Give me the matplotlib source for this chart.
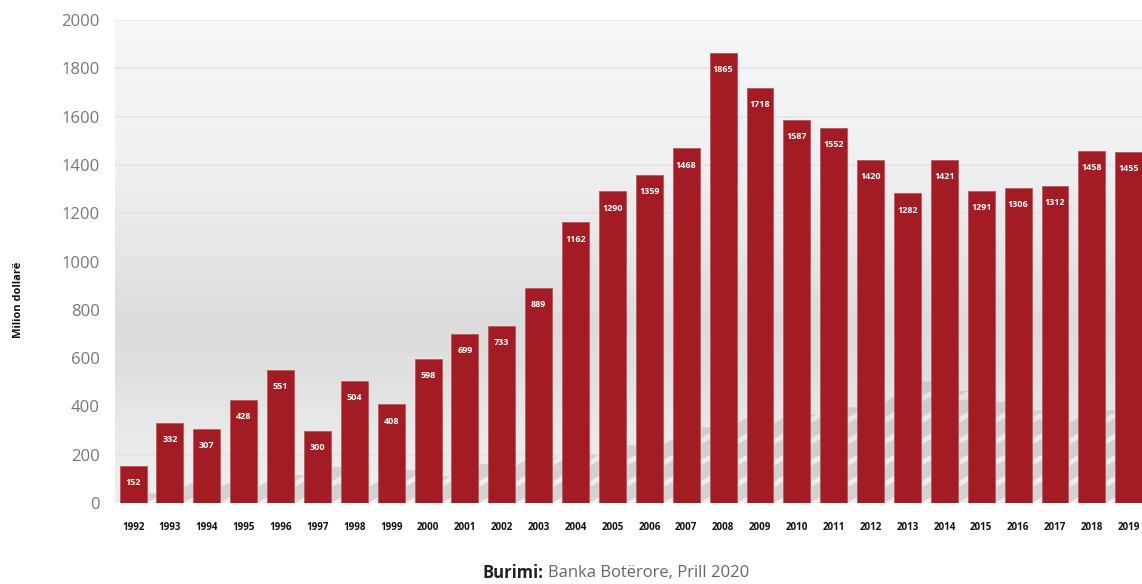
import numpy as np
import matplotlib
matplotlib.use('Agg')
import matplotlib.pyplot as plt
from matplotlib.colors import LinearSegmentedColormap
from matplotlib.patches import Polygon

# Data
years = [str(y) for y in range(1992, 2020)]
values = [152, 332, 307, 428, 551, 300, 504, 408, 598, 699, 733, 889, 1162, 1290,
          1359, 1468, 1865, 1718, 1587, 1552, 1420, 1282, 1421, 1291, 1306, 1312,
          1458, 1455]
yticks = list(range(0, 2001, 200))

bar_color = '#a31b23'
plt.rcParams['font.family'] = ['Open Sans', 'DejaVu Sans']

fig = plt.figure(figsize=(11.42, 5.84), dpi=100)
ax = fig.add_axes([115 / 1142, 81 / 584, 1 - 115 / 1142, 483 / 584])

x = np.arange(len(values))
xmin, xmax = -0.49, 27.36
ax.set_xlim(xmin, xmax)
ax.set_ylim(0, 2000)

# Background gradient (light at top, darker in the middle, lighter at bottom)
grad = LinearSegmentedColormap.from_list('bg', [
    (0.0, '#eef0f0'), (0.12, '#eaebeb'), (0.28, '#dedfdf'),
    (0.38, '#dcdcdc'), (0.52, '#e5e6e6'), (0.7, '#eff0f1'), (1.0, '#f6f7f8')])
ax.imshow(np.linspace(0, 1, 256).reshape(-1, 1), cmap=grad, origin='lower',
          extent=[xmin, xmax, 0, 2000], aspect='auto', zorder=0)

# Gridlines
for t in yticks[1:]:
    ax.axhline(t, color='#e3e3e3', lw=1.2, zorder=1)

# Diagonal bar shadows
width = 0.73
ppu = (1142 - 115) / (xmax - xmin)   # pixels per x unit
ppv = 483 / 2000                      # pixels per value unit
angle = np.deg2rad(30)
for xi, v in zip(x, values):
    dy = 0.27 * v
    dx = dy * ppv / np.tan(angle) / ppu
    xl, xr = xi - width / 2, xi + width / 2
    poly = Polygon([(xl, 0), (xr, 0), (xr + dx, dy), (xl + dx, dy)],
                   closed=True, facecolor='#a8a8a8', alpha=0.4, lw=0, zorder=2)
    ax.add_patch(poly)

bars = ax.bar(x, values, width=width, color=bar_color, edgecolor='#c9505a',
              linewidth=0.6, zorder=3)

for xi, v in zip(x, values):
    ax.annotate(str(v), (xi, v), xytext=(0, -12), textcoords='offset points',
                ha='center', va='center', color='white', fontsize=6.5,
                fontweight='bold', zorder=4)

ax.set_xticks(x)
ax.set_xticklabels(years, fontsize=7, fontweight='bold', color='#111111')
ax.set_yticks(yticks)
ax.set_yticklabels([str(t) for t in yticks], fontsize=12, color='#777777')
ax.tick_params(axis='both', length=0)
ax.tick_params(axis='x', pad=14)
ax.tick_params(axis='y', pad=11)
for s in ax.spines.values():
    s.set_visible(False)

fig.text(19 / 1142, 1 - 300 / 584, 'Milion dollarë', rotation=90, ha='center',
         va='center', fontsize=8, fontweight='bold', color='#111111')

fig.text(544 / 1142, 11 / 584, 'Burimi:', ha='right', va='center', fontsize=12,
         fontweight='bold', color='#222222')
fig.text(548 / 1142, 11 / 584, 'Banka Botërore, Prill 2020', ha='left', va='center',
         fontsize=12, color='#666666')

fig.savefig('out.png', dpi=100)
